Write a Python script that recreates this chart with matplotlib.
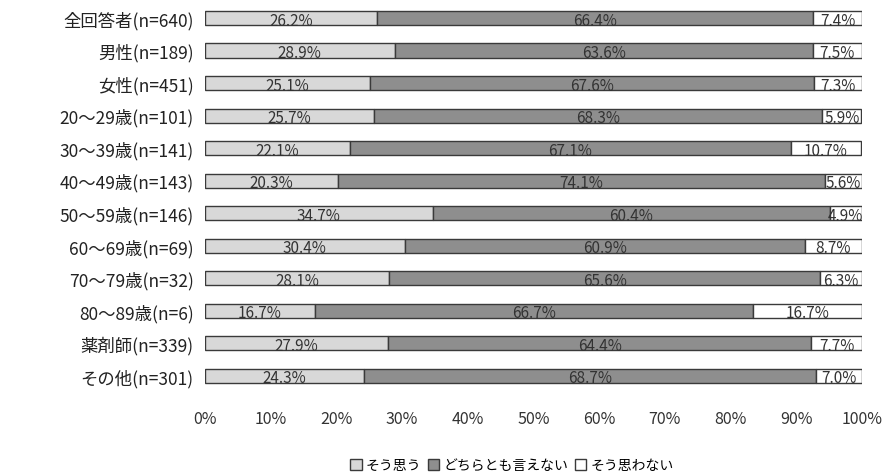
import matplotlib
matplotlib.use("Agg")
import matplotlib.pyplot as plt
import numpy as np

plt.rcParams["font.family"] = ["Noto Sans CJK JP", "DejaVu Sans"]

# data
groups = [
    "全回答者(n=640)", "男性(n=189)", "女性(n=451)",
    "20～29歳(n=101)", "30～39歳(n=141)", "40～49歳(n=143)",
    "50～59歳(n=146)", "60～69歳(n=69)", "70～79歳(n=32)",
    "80～89歳(n=6)", "薬剤師(n=339)", "その他(n=301)",
]
agree = [26.2, 28.9, 25.1, 25.7, 22.1, 20.3, 34.7, 30.4, 28.1, 16.7, 27.9, 24.3]
neutral = [66.4, 63.6, 67.6, 68.3, 67.1, 74.1, 60.4, 60.9, 65.6, 66.7, 64.4, 68.7]
disagree = [7.4, 7.5, 7.3, 5.9, 10.7, 5.6, 4.9, 8.7, 6.3, 16.7, 7.7, 7.0]
series_names = ["そう思う", "どちらとも言えない", "そう思わない"]
colors = ["#d8d8d8", "#8e8e8e", "#ffffff"]
ticks = [0, 10, 20, 30, 40, 50, 60, 70, 80, 90, 100]

fig = plt.figure(figsize=(8.83, 4.77), dpi=100)
ax = fig.add_axes([0.232, 0.176, 0.744, 0.818])

y = np.arange(len(groups))
left = np.zeros(len(groups))
for vals, name, col in zip([agree, neutral, disagree], series_names, colors):
    vals = np.array(vals)
    ax.barh(y, vals, left=left, height=0.44, color=col, edgecolor="#3a3a3a",
            linewidth=1.0, label=name)
    for yi, l, v in zip(y, left, vals):
        ax.text(l + v / 2, yi, f"{v:.1f}%", ha="center", va="center_baseline",
                fontsize=11, color="#333333")
    left = left + vals

ax.set_xlim(0, 100)
ax.set_ylim(len(groups) - 0.5, -0.5)
ax.set_yticks(y)
ax.set_yticklabels(groups, fontsize=12.5, color="#222222")
ax.set_xticks(ticks)
ax.set_xticklabels([f"{t}%" for t in ticks], fontsize=11.5, color="#333333")
ax.tick_params(axis="both", length=0)
ax.tick_params(axis="x", pad=13)
ax.tick_params(axis="y", pad=8)
for s in ax.spines.values():
    s.set_visible(False)

fig.legend(loc="lower center", bbox_to_anchor=(0.58, -0.018), ncol=3,
           frameon=False, fontsize=10, handlelength=0.8, handleheight=0.8,
           handletextpad=0.3, columnspacing=0.5)

fig.savefig("out.png", dpi=100)
